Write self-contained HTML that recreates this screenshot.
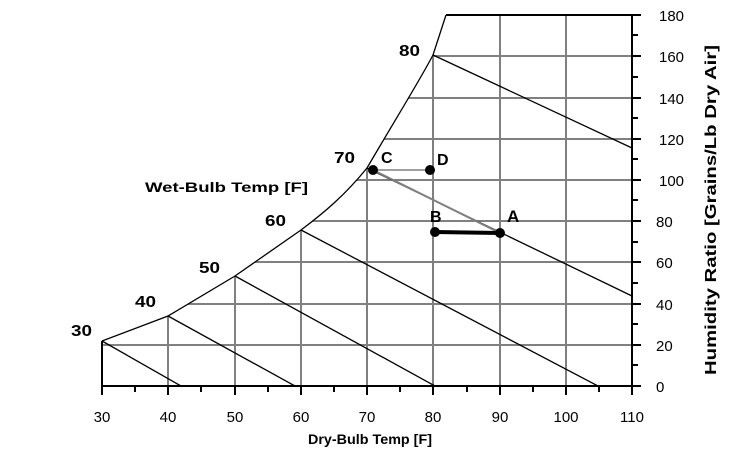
<!DOCTYPE html><html><head><style>body{margin:0;background:#fff}svg{display:block}text{font-family:"Liberation Sans",Arial,sans-serif;fill:#000}</style></head><body>
<svg width="752" height="456" viewBox="0 0 752 456" font-size="15">
<g stroke="#808080" stroke-width="2">
<line x1="168" y1="15" x2="168" y2="386"/><line x1="235" y1="15" x2="235" y2="386"/><line x1="301" y1="15" x2="301" y2="386"/><line x1="367" y1="15" x2="367" y2="386"/><line x1="433" y1="15" x2="433" y2="386"/><line x1="500" y1="15" x2="500" y2="386"/><line x1="566" y1="15" x2="566" y2="386"/>
<line x1="102" y1="345" x2="632" y2="345"/><line x1="102" y1="304" x2="632" y2="304"/><line x1="102" y1="262" x2="632" y2="262"/><line x1="102" y1="221" x2="632" y2="221"/><line x1="102" y1="180" x2="632" y2="180"/><line x1="102" y1="139" x2="632" y2="139"/><line x1="102" y1="98" x2="632" y2="98"/><line x1="102" y1="56" x2="632" y2="56"/>
</g>
<path d="M0 0 L752 0 L752 14 L446 14 L446 15 L433 55 C420 80 395 120 367 168 C345 195 325 212 301 230 L235 276 L168 316 L102 341 L102 400 L0 400 Z" fill="#fff"/>
<g fill="none" stroke="#000" stroke-width="1.3">
<path d="M102 341 L168 316 L235 276 L301 230 C325 212 345 195 367 168 C395 120 420 80 433 55 L446 15"/>
<line x1="102" y1="341" x2="181" y2="386"/><line x1="168" y1="316" x2="295" y2="386"/><line x1="235" y1="276" x2="435" y2="386"/><line x1="301" y1="230" x2="598" y2="386"/><line x1="367" y1="168" x2="632" y2="296"/><line x1="433" y1="55" x2="632" y2="148"/>
</g>
<g stroke="#000" stroke-width="2">
<line x1="446" y1="15" x2="632" y2="15"/><line x1="632" y1="15" x2="632" y2="387"/><line x1="101" y1="386" x2="632" y2="386"/><line x1="102" y1="341" x2="102" y2="386"/>
<path d="M632 15h9M632 35h6M632 56h9M632 77h6M632 98h9M632 118h6M632 139h9M632 159h6M632 180h9M632 200h6M632 221h9M632 242h6M632 262h9M632 283h6M632 304h9M632 324h6M632 345h9M632 365h6M632 386h9"/>
<path d="M102 386v9M135 386v6M168 386v9M201 386v6M235 386v9M268 386v6M301 386v9M334 386v6M367 386v9M400 386v6M433 386v9M467 386v6M500 386v9M533 386v6M566 386v9M599 386v6M632 386v9"/>
</g>
<line x1="373" y1="170" x2="430" y2="170" stroke="#808080" stroke-width="1.5"/>
<line x1="373" y1="170" x2="500" y2="233" stroke="#808080" stroke-width="2"/>
<line x1="435" y1="232" x2="500" y2="233" stroke="#000" stroke-width="4"/>
<g fill="#000"><circle cx="373" cy="170" r="5"/><circle cx="430" cy="170" r="5"/><circle cx="435" cy="232" r="5"/><circle cx="500" cy="233" r="5"/></g>
<g font-weight="bold" font-size="16">
<text x="381" y="163">C</text><text x="437" y="165">D</text><text x="430" y="222">B</text><text x="507" y="222" font-size="17">A</text>
<text x="71" y="336" textLength="21" lengthAdjust="spacingAndGlyphs">30</text><text x="135" y="307" textLength="21" lengthAdjust="spacingAndGlyphs">40</text><text x="199" y="273" textLength="21" lengthAdjust="spacingAndGlyphs">50</text><text x="265" y="226" textLength="21" lengthAdjust="spacingAndGlyphs">60</text><text x="334" y="163" textLength="21" lengthAdjust="spacingAndGlyphs">70</text><text x="399" y="56" textLength="21" lengthAdjust="spacingAndGlyphs">80</text>
<text x="145" y="192" font-size="14" textLength="163" lengthAdjust="spacingAndGlyphs">Wet-Bulb Temp [F]</text>
<text x="308" y="444" font-size="14" textLength="124" lengthAdjust="spacingAndGlyphs">Dry-Bulb Temp [F]</text>
<text transform="translate(716,375) rotate(-90)" font-size="16" textLength="330" lengthAdjust="spacingAndGlyphs">Humidity Ratio [Grains/Lb    Dry Air]</text>
</g>
<g>
<text x="659" y="21">180</text><text x="659" y="62">160</text><text x="659" y="104">140</text><text x="659" y="145">120</text><text x="659" y="186">100</text><text x="656" y="227">80</text><text x="656" y="268">60</text><text x="656" y="310">40</text><text x="656" y="351">20</text><text x="656" y="392">0</text>
</g>
<g text-anchor="middle">
<text x="102" y="422">30</text><text x="168" y="422">40</text><text x="235" y="422">50</text><text x="301" y="422">60</text><text x="367" y="422">70</text><text x="433" y="422">80</text><text x="500" y="422">90</text><text x="566" y="422">100</text><text x="632" y="422">110</text>
</g>
</svg></body></html>
